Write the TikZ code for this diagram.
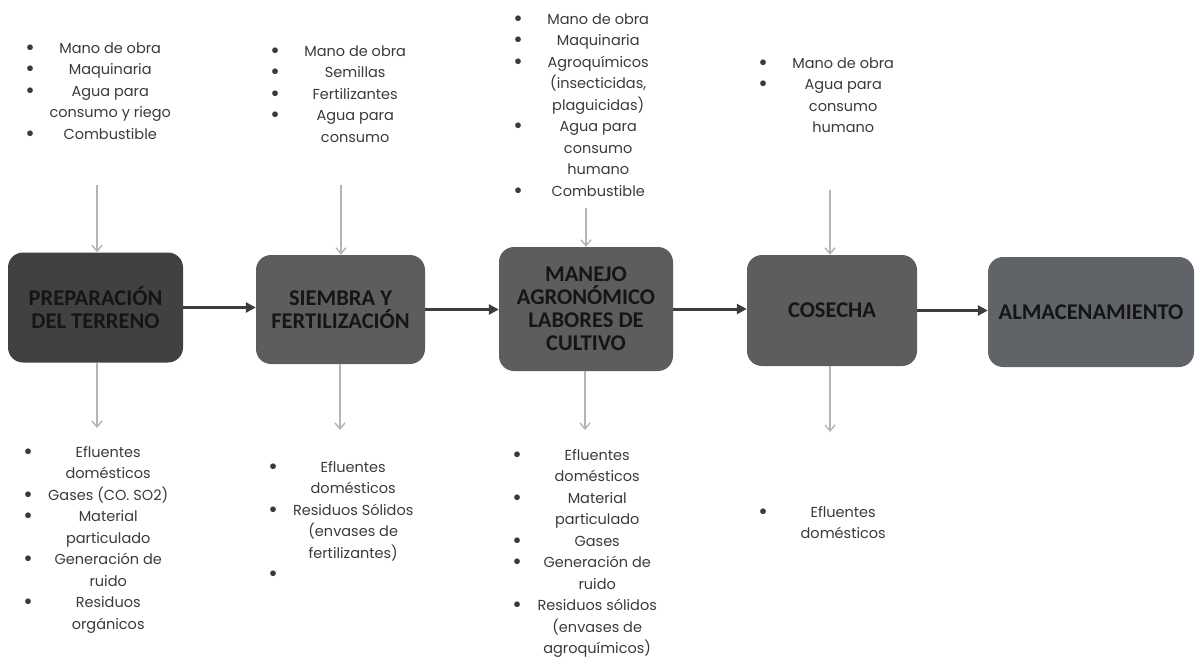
\documentclass[tikz,border=0pt]{standalone}
\usepackage{fontspec}
\usepackage{array}
\setmainfont{Carlito}
\newfontfamily\lfont{Poppins}
\usetikzlibrary{arrows.meta}
\definecolor{boxA}{HTML}{404142}
\definecolor{boxB}{HTML}{5C5D5E}
\definecolor{boxC}{HTML}{606367}
\definecolor{boxtext}{HTML}{151515}
\definecolor{listgray}{HTML}{3A3A3A}
\definecolor{flowgray}{HTML}{3C3C3C}
\definecolor{ligray}{HTML}{B4B4B4}
\newcolumntype{B}{>{\centering}p{10pt}}
\newcolumntype{T}{>{\centering\arraybackslash}p{150pt}}
\newcommand{\bul}{\smash{\raisebox{-2pt}{\scalebox{1.6}{•}}}}
\begin{document}
\begin{tikzpicture}[x=1pt,y=-1pt,
  stage/.style={rounded corners=15pt, inner sep=2pt, align=center, text=boxtext,
    font=\fontsize{22.5}{23}\selectfont\bfseries},
  lst/.style={inner sep=0pt, anchor=base west, text=listgray,
    font=\lfont\fontsize{14.5}{21.5}\selectfont},
  flow/.style={draw=flowgray, line width=3pt, -{Triangle[length=10pt,width=10pt]}},
  io/.style={draw=ligray, line width=1.4pt, -{Straight Barb[length=6pt,width=10pt]}}
]
\useasboundingbox (0,0) rectangle (1196,657);

% stages
\node[stage, fill=boxA, minimum width=175pt, minimum height=110pt] (b1) at (95.5,307.5) {PREPARACIÓN\\DEL TERRENO};
\node[stage, fill=boxB, minimum width=169pt, minimum height=109pt] (b2) at (340.5,309.5) {SIEMBRA Y\\FERTILIZACIÓN};
\node[stage, fill=boxB, minimum width=174pt, minimum height=124pt] (b3) at (586,309) {MANEJO\\AGRONÓMICO\\LABORES DE\\CULTIVO};
\node[stage, fill=boxB, minimum width=170pt, minimum height=111pt] (b4) at (832,310.5) {COSECHA};
\node[stage, fill=boxC, minimum width=206pt, minimum height=110pt] (b5) at (1091,312) {ALMACENAMIENTO};

\draw[flow] (b1.east) -- (b1.east -| b2.west);
\draw[flow] (b2.east) -- (b2.east -| b3.west);
\draw[flow] (b3.east) -- (b3.east -| b4.west);
\draw[flow] (b4.east) -- (b4.east -| b5.west);

% inputs
\node[lst] (in1) at (25,53) {\begin{tabular}[t]{@{}B@{}T@{}}
\bul & Mano de obra\\
\bul & Maquinaria\\
\bul & Agua para\par consumo y riego\\
\bul & Combustible\\
\end{tabular}};
\node[lst] (in2) at (270,56) {\begin{tabular}[t]{@{}B@{}T@{}}
\bul & Mano de obra\\
\bul & Semillas\\
\bul & Fertilizantes\\
\bul & Agua para\par consumo\\
\end{tabular}};
\node[lst] (in3) at (513,24) {\begin{tabular}[t]{@{}B@{}T@{}}
\bul & Mano de obra\\
\bul & Maquinaria\\
\bul & Agroquímicos\par (insecticidas,\par plaguicidas)\\
\bul & Agua para\par consumo\par humano\\
\bul & Combustible\\
\end{tabular}};
\node[lst] (in4) at (758,68) {\begin{tabular}[t]{@{}B@{}T@{}}
\bul & Mano de obra\\
\bul & Agua para\par consumo\par humano\\
\end{tabular}};

% outputs
\node[lst] (out1) at (23,457) {\begin{tabular}[t]{@{}B@{}T@{}}
\bul & Efluentes\par domésticos\\
\bul & Gases (CO. SO2)\\
\bul & Material\par particulado\\
\bul & Generación de\par ruido\\
\bul & Residuos\par orgánicos\\
\end{tabular}};
\node[lst] (out2) at (268,472) {\begin{tabular}[t]{@{}B@{}T@{}}
\bul & Efluentes\par domésticos\\
\bul & Residuos Sólidos\par (envases de\par fertilizantes)\\
\bul & \\
\end{tabular}};
\node[lst] (out3) at (512,460) {\begin{tabular}[t]{@{}B@{}T@{}}
\bul & Efluentes\par domésticos\\
\bul & Material\par particulado\\
\bul & Gases\\
\bul & Generación de\par ruido\\
\bul & Residuos sólidos\par (envases de\par agroquímicos)\\
\end{tabular}};
\node[lst] (out4) at (758,517) {\begin{tabular}[t]{@{}B@{}T@{}}
\bul & Efluentes\par domésticos\\
\end{tabular}};

% input / output arrows
\coordinate (i1) at (97,185);
\coordinate (i2) at (341,185);
\coordinate (i3) at (586,208);
\coordinate (i4) at (830,190);
\coordinate (o1) at (97,428);
\coordinate (o2) at (340,430);
\coordinate (o3) at (585,430);
\coordinate (o4) at (830,432);
\draw[io] (i1) -- (i1 |- b1.north);
\draw[io] (i2) -- (i2 |- b2.north);
\draw[io] (i3) -- (i3 |- b3.north);
\draw[io] (i4) -- (i4 |- b4.north);
\draw[io] (o1 |- b1.south) -- (o1);
\draw[io] (o2 |- b2.south) -- (o2);
\draw[io] (o3 |- b3.south) -- (o3);
\draw[io] (o4 |- b4.south) -- (o4);
\end{tikzpicture}
\end{document}
